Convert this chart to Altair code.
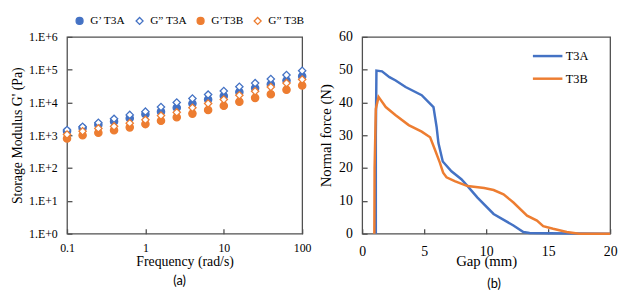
import altair as alt
import pandas as pd

BLUE = "#4472C4"
ORANGE = "#ED7D31"
FRAME = "#505050"
SERIF = "Liberation Serif"

# ---- panel (a) data ----
freq = [0.1, 0.158, 0.251, 0.398, 0.631, 1, 1.58, 2.51, 3.98, 6.31, 10, 15.8, 25.1, 39.8, 63.1, 100]
gp_t3a = [1320, 1660, 2100, 2630, 3300, 4370, 5250, 6900, 9300, 12300, 15800, 20900, 27500, 35700, 46800, 63000]
gpp_t3a = [1440, 1820, 2400, 3170, 4170, 5250, 7250, 10000, 13200, 17400, 22400, 30000, 39000, 52000, 69000, 93000]
gp_t3b = [800, 1000, 1200, 1420, 1740, 2190, 2760, 3550, 4570, 5900, 7900, 10500, 13800, 17800, 24500, 33000]
gpp_t3b = [1050, 1320, 1620, 1870, 2340, 2950, 3980, 5000, 6900, 9300, 12300, 16600, 22000, 29500, 39000, 50000]
series_names = ["G\u2019 T3A", "G\u201d T3A", "G\u2019T3B", "G\u201d T3B"]
x_ticks_a = [0.1, 1, 10, 100]
y_ticks_a = [1, 10, 100, 1000, 10000, 100000, 1000000]

# ---- panel (b) data ----
gap_a = [1.1, 1.1, 1.15, 1.6, 2.2, 2.7, 3.5, 4.8, 5.75, 6.0, 6.15, 6.5, 7.2, 8.0, 8.5, 9.3, 10.6, 12.2, 13.0, 13.5, 15, 17.5, 20]
force_a = [0, 30, 49.7, 49.5, 47.7, 46.7, 44.7, 42.2, 38.6, 32.6, 27.6, 22, 19, 16.6, 14.5, 11, 6, 2.5, 0.5, 0.2, 0.1, 0.05, 0]
gap_b = [0.98, 1.0, 1.1, 1.32, 1.9, 2.7, 3.75, 4.8, 5.48, 5.87, 6.27, 6.53, 6.8, 7.46, 8.5, 9.84, 10.6, 11.4, 12.2, 13.3, 14.1, 14.6, 15.4, 16.5, 17.5, 20]
force_b = [0, 20, 38, 41.7, 38.6, 36.1, 33.1, 31.1, 29.4, 25.6, 21.6, 18.6, 17.2, 16, 14.5, 13.9, 13.3, 12, 9.5, 5.5, 4, 2.3, 1.5, 0.5, 0, 0]
samples = ["T3A", "T3B"]
x_ticks_b = [0, 5, 10, 15, 20]
y_ticks_b = [0, 10, 20, 30, 40, 50, 60]

rows = []
k = 0
for name, vals in zip(series_names, [gp_t3a, gpp_t3a, gp_t3b, gpp_t3b]):
    for f, v in zip(freq, vals):
        rows.append({"series": name, "freq": f, "value": v, "idx": k})
        k += 1
df_a = pd.DataFrame(rows)

rows = []
for name, gx, fy in [("T3A", gap_a, force_a), ("T3B", gap_b, force_b)]:
    for i, (g, f) in enumerate(zip(gx, fy)):
        rows.append({"sample": name, "gap": g, "force": f, "idx": i})
df_b = pd.DataFrame(rows)

AX = dict(domain=False, grid=False, ticks=True, tickColor=FRAME, tickWidth=1.3, offset=-5, tickSize=5,
          labelFlush=False, labelOverlap=False,
          labelFont=SERIF, titleFont=SERIF, labelColor="black", titleColor="black",
          titleFontWeight="normal")

leg_a = alt.Legend(
    title=None, orient="none", direction="horizontal", legendX=7, legendY=-22,
    labelFont=SERIF, labelFontSize=11.5, labelColor="black", symbolSize=50,
    symbolStrokeWidth=1.3, labelOffset=5, columnPadding=7, padding=0,
)

panel_a = alt.Chart(df_a).mark_point(size=55, strokeWidth=1.3, filled=True, opacity=1).encode(
    x=alt.X("freq:Q", scale=alt.Scale(type="log", domain=[0.1, 100]),
            axis=alt.Axis(values=x_ticks_a, format="~g", title="Frequency (rad/s)",
                          labelPadding=9, titlePadding=1, labelFontSize=12, titleFontSize=14, **AX)),
    y=alt.Y("value:Q", scale=alt.Scale(type="log", domain=[1, 1000000]),
            axis=alt.Axis(values=y_ticks_a, labelExpr="'1.E+' + round(log(datum.value)/LN10)",
                          title="Storage Modulus G' (Pa)",
                          labelPadding=10, titlePadding=4, labelFontSize=12, titleFontSize=14, **AX)),
    shape=alt.Shape("series:N", scale=alt.Scale(domain=series_names, range=["circle", "diamond", "circle", "diamond"]), legend=leg_a),
    fill=alt.Fill("series:N", scale=alt.Scale(domain=series_names, range=[BLUE, "white", ORANGE, "white"]), legend=leg_a),
    stroke=alt.Stroke("series:N", scale=alt.Scale(domain=series_names, range=[BLUE, BLUE, ORANGE, ORANGE]), legend=leg_a),
    order=alt.Order("idx:Q"),
).properties(
    width=239, height=200,
    title=alt.TitleParams("(a)", orient="bottom", font="Lato", fontSize=13, fontWeight="normal",
                          color="black", offset=7, dx=-5),
)

panel_b = alt.Chart(df_b).mark_line(strokeWidth=2.5).encode(
    x=alt.X("gap:Q", scale=alt.Scale(domain=[0, 20]),
            axis=alt.Axis(values=x_ticks_b, title="Gap (mm)",
                          labelPadding=11, titlePadding=-5, labelFontSize=14, titleFontSize=15, **AX)),
    y=alt.Y("force:Q", scale=alt.Scale(domain=[0, 60]),
            axis=alt.Axis(values=y_ticks_b, title="Normal force (N)",
                          labelPadding=10, titlePadding=5.5, labelFontSize=14, titleFontSize=15, **AX)),
    color=alt.Color("sample:N", scale=alt.Scale(domain=samples, range=[BLUE, ORANGE]),
                    legend=alt.Legend(title=None, orient="none", legendX=172, legendY=3,
                                      symbolType="stroke", symbolSize=900, symbolStrokeWidth=2.5,
                                      labelFont=SERIF, labelFontSize=12.5, labelColor="black",
                                      labelOffset=2, rowPadding=-3.5, padding=0)),
    order=alt.Order("idx:Q"),
).properties(
    width=252, height=200,
    title=alt.TitleParams("(b)", orient="bottom", font="Lato", fontSize=13, fontWeight="normal",
                          color="black", offset=10, dx=8),
)

chart = alt.hconcat(panel_a, panel_b, spacing=61, bounds="flush").resolve_scale(
    shape="independent", fill="independent", stroke="independent", color="independent"
).properties(
    padding={"left": 2, "top": 4, "right": 0, "bottom": 0},
).configure_view(
    stroke=FRAME, strokeWidth=1.3
)

chart.save("out.html", embed_options={"renderer": "svg", "actions": False})
